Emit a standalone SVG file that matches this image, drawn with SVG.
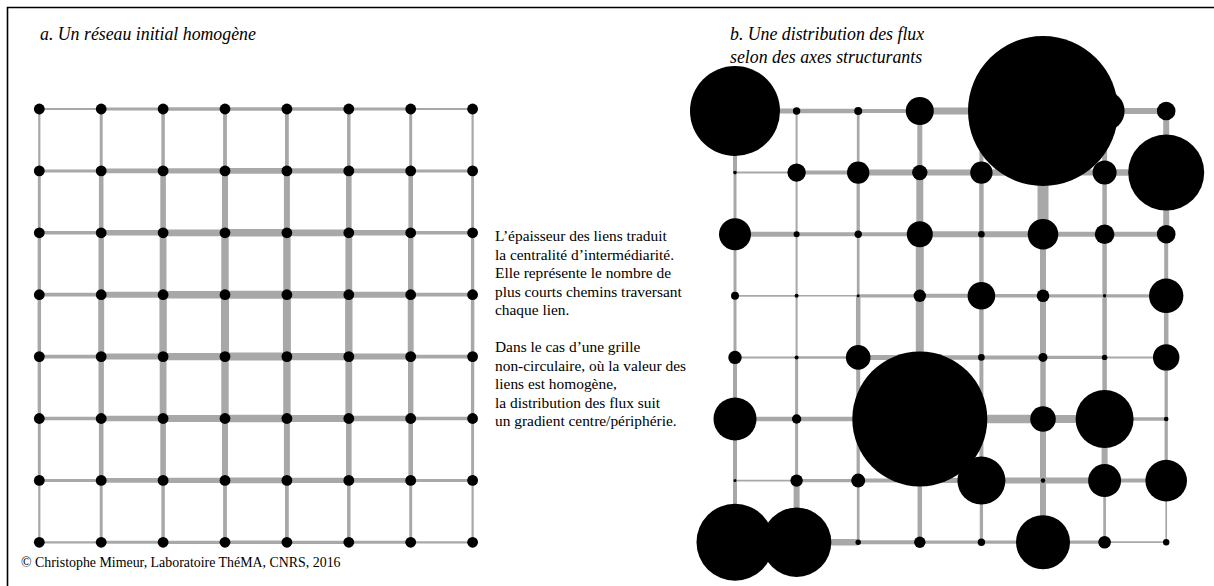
<svg xmlns="http://www.w3.org/2000/svg" width="1214" height="586" viewBox="0 0 1214 586">
<style>
.e path{stroke:#a8a8a8;fill:none;stroke-linecap:butt}
.n circle{fill:#000}
.t{font-family:"Liberation Serif","Times New Roman",serif;fill:#000}
.ti{font-style:italic;font-size:17.8px}
.p{font-size:15.4px}
.c{font-size:13.9px}
</style>
<rect x="0" y="0" width="1214" height="586" fill="#fff"/>
<path d="M7.5 586V7.5H1214" fill="none" stroke="#000" stroke-width="1.6"/>
<text class="t ti" x="40" y="40">a. Un réseau initial homogène</text>
<text class="t ti" x="730" y="40">b. Une distribution des flux</text>
<text class="t ti" x="730" y="63">selon des axes structurants</text>
<g class="t p">
<text x="495" y="241">L’épaisseur des liens traduit</text>
<text x="495" y="259.5">la centralité d’intermédiarité.</text>
<text x="495" y="278">Elle représente le nombre de</text>
<text x="495" y="296.5">plus courts chemins traversant</text>
<text x="495" y="315">chaque lien.</text>
<text x="495" y="352">Dans le cas d’une grille</text>
<text x="495" y="370.5">non-circulaire, où la valeur des</text>
<text x="495" y="389">liens est homogène,</text>
<text x="495" y="407.5">la distribution des flux suit</text>
<text x="495" y="426">un gradient centre/périphérie.</text>
</g>
<text class="t c" x="21" y="567">© Christophe Mimeur, Laboratoire ThéMA, CNRS, 2016</text>
<g id="connectors-a" class="e">
<path d="M39.3 109H101.2" stroke-width="2.2"/><path d="M101.2 109H163.1" stroke-width="2.9"/><path d="M163.1 109H225" stroke-width="3.3"/><path d="M225 109H286.9" stroke-width="3.5"/><path d="M286.9 109H348.8" stroke-width="3.3"/><path d="M348.8 109H410.7" stroke-width="2.9"/><path d="M410.7 109H472.6" stroke-width="2.2"/>
<path d="M39.3 170.9H101.2" stroke-width="3"/><path d="M101.2 170.9H163.1" stroke-width="4.6"/><path d="M163.1 170.9H225" stroke-width="5.4"/><path d="M225 170.9H286.9" stroke-width="5.9"/><path d="M286.9 170.9H348.8" stroke-width="5.4"/><path d="M348.8 170.9H410.7" stroke-width="4.6"/><path d="M410.7 170.9H472.6" stroke-width="3"/>
<path d="M39.3 232.8H101.2" stroke-width="3.5"/><path d="M101.2 232.8H163.1" stroke-width="5.6"/><path d="M163.1 232.8H225" stroke-width="6.8"/><path d="M225 232.8H286.9" stroke-width="7.4"/><path d="M286.9 232.8H348.8" stroke-width="6.8"/><path d="M348.8 232.8H410.7" stroke-width="5.6"/><path d="M410.7 232.8H472.6" stroke-width="3.5"/>
<path d="M39.3 294.7H101.2" stroke-width="3.8"/><path d="M101.2 294.7H163.1" stroke-width="6"/><path d="M163.1 294.7H225" stroke-width="7.4"/><path d="M225 294.7H286.9" stroke-width="8"/><path d="M286.9 294.7H348.8" stroke-width="7.4"/><path d="M348.8 294.7H410.7" stroke-width="6"/><path d="M410.7 294.7H472.6" stroke-width="3.8"/>
<path d="M39.3 356.6H101.2" stroke-width="3.8"/><path d="M101.2 356.6H163.1" stroke-width="6"/><path d="M163.1 356.6H225" stroke-width="7.4"/><path d="M225 356.6H286.9" stroke-width="8"/><path d="M286.9 356.6H348.8" stroke-width="7.4"/><path d="M348.8 356.6H410.7" stroke-width="6"/><path d="M410.7 356.6H472.6" stroke-width="3.8"/>
<path d="M39.3 418.5H101.2" stroke-width="3.5"/><path d="M101.2 418.5H163.1" stroke-width="5.6"/><path d="M163.1 418.5H225" stroke-width="6.8"/><path d="M225 418.5H286.9" stroke-width="7.4"/><path d="M286.9 418.5H348.8" stroke-width="6.8"/><path d="M348.8 418.5H410.7" stroke-width="5.6"/><path d="M410.7 418.5H472.6" stroke-width="3.5"/>
<path d="M39.3 480.4H101.2" stroke-width="3"/><path d="M101.2 480.4H163.1" stroke-width="4.6"/><path d="M163.1 480.4H225" stroke-width="5.4"/><path d="M225 480.4H286.9" stroke-width="5.9"/><path d="M286.9 480.4H348.8" stroke-width="5.4"/><path d="M348.8 480.4H410.7" stroke-width="4.6"/><path d="M410.7 480.4H472.6" stroke-width="3"/>
<path d="M39.3 542.3H101.2" stroke-width="2.2"/><path d="M101.2 542.3H163.1" stroke-width="2.9"/><path d="M163.1 542.3H225" stroke-width="3.3"/><path d="M225 542.3H286.9" stroke-width="3.5"/><path d="M286.9 542.3H348.8" stroke-width="3.3"/><path d="M348.8 542.3H410.7" stroke-width="2.9"/><path d="M410.7 542.3H472.6" stroke-width="2.2"/>
<path d="M39.3 109V170.9" stroke-width="2.2"/><path d="M39.3 170.9V232.8" stroke-width="2.9"/><path d="M39.3 232.8V294.7" stroke-width="3.3"/><path d="M39.3 294.7V356.6" stroke-width="3.5"/><path d="M39.3 356.6V418.5" stroke-width="3.3"/><path d="M39.3 418.5V480.4" stroke-width="2.9"/><path d="M39.3 480.4V542.3" stroke-width="2.2"/>
<path d="M101.2 109V170.9" stroke-width="3"/><path d="M101.2 170.9V232.8" stroke-width="4.6"/><path d="M101.2 232.8V294.7" stroke-width="5.4"/><path d="M101.2 294.7V356.6" stroke-width="5.9"/><path d="M101.2 356.6V418.5" stroke-width="5.4"/><path d="M101.2 418.5V480.4" stroke-width="4.6"/><path d="M101.2 480.4V542.3" stroke-width="3"/>
<path d="M163.1 109V170.9" stroke-width="3.5"/><path d="M163.1 170.9V232.8" stroke-width="5.6"/><path d="M163.1 232.8V294.7" stroke-width="6.8"/><path d="M163.1 294.7V356.6" stroke-width="7.4"/><path d="M163.1 356.6V418.5" stroke-width="6.8"/><path d="M163.1 418.5V480.4" stroke-width="5.6"/><path d="M163.1 480.4V542.3" stroke-width="3.5"/>
<path d="M225 109V170.9" stroke-width="3.8"/><path d="M225 170.9V232.8" stroke-width="6"/><path d="M225 232.8V294.7" stroke-width="7.4"/><path d="M225 294.7V356.6" stroke-width="8"/><path d="M225 356.6V418.5" stroke-width="7.4"/><path d="M225 418.5V480.4" stroke-width="6"/><path d="M225 480.4V542.3" stroke-width="3.8"/>
<path d="M286.9 109V170.9" stroke-width="3.8"/><path d="M286.9 170.9V232.8" stroke-width="6"/><path d="M286.9 232.8V294.7" stroke-width="7.4"/><path d="M286.9 294.7V356.6" stroke-width="8"/><path d="M286.9 356.6V418.5" stroke-width="7.4"/><path d="M286.9 418.5V480.4" stroke-width="6"/><path d="M286.9 480.4V542.3" stroke-width="3.8"/>
<path d="M348.8 109V170.9" stroke-width="3.5"/><path d="M348.8 170.9V232.8" stroke-width="5.6"/><path d="M348.8 232.8V294.7" stroke-width="6.8"/><path d="M348.8 294.7V356.6" stroke-width="7.4"/><path d="M348.8 356.6V418.5" stroke-width="6.8"/><path d="M348.8 418.5V480.4" stroke-width="5.6"/><path d="M348.8 480.4V542.3" stroke-width="3.5"/>
<path d="M410.7 109V170.9" stroke-width="3"/><path d="M410.7 170.9V232.8" stroke-width="4.6"/><path d="M410.7 232.8V294.7" stroke-width="5.4"/><path d="M410.7 294.7V356.6" stroke-width="5.9"/><path d="M410.7 356.6V418.5" stroke-width="5.4"/><path d="M410.7 418.5V480.4" stroke-width="4.6"/><path d="M410.7 480.4V542.3" stroke-width="3"/>
<path d="M472.6 109V170.9" stroke-width="2.2"/><path d="M472.6 170.9V232.8" stroke-width="2.9"/><path d="M472.6 232.8V294.7" stroke-width="3.3"/><path d="M472.6 294.7V356.6" stroke-width="3.5"/><path d="M472.6 356.6V418.5" stroke-width="3.3"/><path d="M472.6 418.5V480.4" stroke-width="2.9"/><path d="M472.6 480.4V542.3" stroke-width="2.2"/>
</g>
<g id="connectors-b" class="e">
<path d="M735 111H796.6" stroke-width="5"/><path d="M796.6 111H858.2" stroke-width="4.5"/><path d="M858.2 111H919.8" stroke-width="4"/><path d="M919.8 111H981.4" stroke-width="7"/><path d="M981.4 111H1043" stroke-width="7"/><path d="M1043 111H1104.6" stroke-width="7"/><path d="M1104.6 111H1166.2" stroke-width="6"/>
<path d="M735 172.6H796.6" stroke-width="2"/><path d="M796.6 172.6H858.2" stroke-width="4"/><path d="M858.2 172.6H919.8" stroke-width="6"/><path d="M919.8 172.6H981.4" stroke-width="6"/><path d="M981.4 172.6H1043" stroke-width="6.5"/><path d="M1043 172.6H1104.6" stroke-width="6"/><path d="M1104.6 172.6H1166.2" stroke-width="6.5"/>
<path d="M735 234.2H796.6" stroke-width="5"/><path d="M796.6 234.2H858.2" stroke-width="4"/><path d="M858.2 234.2H919.8" stroke-width="4"/><path d="M919.8 234.2H981.4" stroke-width="6"/><path d="M981.4 234.2H1043" stroke-width="6"/><path d="M1043 234.2H1104.6" stroke-width="5"/><path d="M1104.6 234.2H1166.2" stroke-width="5"/>
<path d="M735 295.8H796.6" stroke-width="1.7"/><path d="M796.6 295.8H858.2" stroke-width="1.5"/><path d="M858.2 295.8H919.8" stroke-width="3.3"/><path d="M919.8 295.8H981.4" stroke-width="4"/><path d="M981.4 295.8H1043" stroke-width="3.5"/><path d="M1043 295.8H1104.6" stroke-width="3.3"/><path d="M1104.6 295.8H1166.2" stroke-width="3.3"/>
<path d="M735 357.4H796.6" stroke-width="2"/><path d="M796.6 357.4H858.2" stroke-width="2.5"/><path d="M858.2 357.4H919.8" stroke-width="5"/><path d="M919.8 357.4H981.4" stroke-width="4.5"/><path d="M981.4 357.4H1043" stroke-width="4"/><path d="M1043 357.4H1104.6" stroke-width="3.3"/><path d="M1104.6 357.4H1166.2" stroke-width="2"/>
<path d="M735 419H796.6" stroke-width="4.5"/><path d="M796.6 419H858.2" stroke-width="4.5"/><path d="M858.2 419H919.8" stroke-width="6"/><path d="M919.8 419H981.4" stroke-width="8"/><path d="M981.4 419H1043" stroke-width="8.5"/><path d="M1043 419H1104.6" stroke-width="8"/><path d="M1104.6 419H1166.2" stroke-width="3.3"/>
<path d="M735 480.6H796.6" stroke-width="1.7"/><path d="M796.6 480.6H858.2" stroke-width="3.3"/><path d="M858.2 480.6H919.8" stroke-width="4"/><path d="M919.8 480.6H981.4" stroke-width="5"/><path d="M981.4 480.6H1043" stroke-width="6"/><path d="M1043 480.6H1104.6" stroke-width="6"/><path d="M1104.6 480.6H1166.2" stroke-width="4"/>
<path d="M735 542.2H796.6" stroke-width="6"/><path d="M796.6 542.2H858.2" stroke-width="6.5"/><path d="M858.2 542.2H919.8" stroke-width="4"/><path d="M919.8 542.2H981.4" stroke-width="3.3"/><path d="M981.4 542.2H1043" stroke-width="3.3"/><path d="M1043 542.2H1104.6" stroke-width="3.3"/><path d="M1104.6 542.2H1166.2" stroke-width="1.7"/>
<path d="M735 111V172.6" stroke-width="4"/><path d="M735 172.6V234.2" stroke-width="3"/><path d="M735 234.2V295.8" stroke-width="3"/><path d="M735 295.8V357.4" stroke-width="3"/><path d="M735 357.4V419" stroke-width="4"/><path d="M735 419V480.6" stroke-width="4"/><path d="M735 480.6V542.2" stroke-width="4"/>
<path d="M796.6 111V172.6" stroke-width="2"/><path d="M796.6 172.6V234.2" stroke-width="2"/><path d="M796.6 234.2V295.8" stroke-width="2"/><path d="M796.6 295.8V357.4" stroke-width="2"/><path d="M796.6 357.4V419" stroke-width="3"/><path d="M796.6 419V480.6" stroke-width="3"/><path d="M796.6 480.6V542.2" stroke-width="6"/>
<path d="M858.2 111V172.6" stroke-width="2.7"/><path d="M858.2 172.6V234.2" stroke-width="3.3"/><path d="M858.2 234.2V295.8" stroke-width="2.7"/><path d="M858.2 295.8V357.4" stroke-width="4.5"/><path d="M858.2 357.4V419" stroke-width="4"/><path d="M858.2 419V480.6" stroke-width="3.3"/><path d="M858.2 480.6V542.2" stroke-width="2.7"/>
<path d="M919.8 111V172.6" stroke-width="5"/><path d="M919.8 172.6V234.2" stroke-width="7"/><path d="M919.8 234.2V295.8" stroke-width="8"/><path d="M919.8 295.8V357.4" stroke-width="8"/><path d="M919.8 357.4V419" stroke-width="8"/><path d="M919.8 419V480.6" stroke-width="8"/><path d="M919.8 480.6V542.2" stroke-width="4.5"/>
<path d="M981.4 111V172.6" stroke-width="4"/><path d="M981.4 172.6V234.2" stroke-width="4.5"/><path d="M981.4 234.2V295.8" stroke-width="4.5"/><path d="M981.4 295.8V357.4" stroke-width="4.5"/><path d="M981.4 357.4V419" stroke-width="4"/><path d="M981.4 419V480.6" stroke-width="4"/><path d="M981.4 480.6V542.2" stroke-width="3.3"/>
<path d="M1043 111V172.6" stroke-width="11"/><path d="M1043 172.6V234.2" stroke-width="11"/><path d="M1043 234.2V295.8" stroke-width="6"/><path d="M1043 295.8V357.4" stroke-width="6"/><path d="M1043 357.4V419" stroke-width="5.5"/><path d="M1043 419V480.6" stroke-width="6"/><path d="M1043 480.6V542.2" stroke-width="6"/>
<path d="M1104.6 111V172.6" stroke-width="5"/><path d="M1104.6 172.6V234.2" stroke-width="4.5"/><path d="M1104.6 234.2V295.8" stroke-width="4.5"/><path d="M1104.6 295.8V357.4" stroke-width="4.5"/><path d="M1104.6 357.4V419" stroke-width="4.5"/><path d="M1104.6 419V480.6" stroke-width="6"/><path d="M1104.6 480.6V542.2" stroke-width="2.7"/>
<path d="M1166.2 111V172.6" stroke-width="6"/><path d="M1166.2 172.6V234.2" stroke-width="6"/><path d="M1166.2 234.2V295.8" stroke-width="4"/><path d="M1166.2 295.8V357.4" stroke-width="4.5"/><path d="M1166.2 357.4V419" stroke-width="3.3"/><path d="M1166.2 419V480.6" stroke-width="3.3"/><path d="M1166.2 480.6V542.2" stroke-width="1.7"/>
</g>
<g class="n">
<g id="a00"><circle cx="39.3" cy="109" r="5.4"/></g><g id="a01"><circle cx="101.2" cy="109" r="5.4"/></g><g id="a02"><circle cx="163.1" cy="109" r="5.4"/></g><g id="a03"><circle cx="225" cy="109" r="5.4"/></g><g id="a04"><circle cx="286.9" cy="109" r="5.4"/></g><g id="a05"><circle cx="348.8" cy="109" r="5.4"/></g><g id="a06"><circle cx="410.7" cy="109" r="5.4"/></g><g id="a07"><circle cx="472.6" cy="109" r="5.4"/></g>
<g id="a10"><circle cx="39.3" cy="170.9" r="5.4"/></g><g id="a11"><circle cx="101.2" cy="170.9" r="5.4"/></g><g id="a12"><circle cx="163.1" cy="170.9" r="5.4"/></g><g id="a13"><circle cx="225" cy="170.9" r="5.4"/></g><g id="a14"><circle cx="286.9" cy="170.9" r="5.4"/></g><g id="a15"><circle cx="348.8" cy="170.9" r="5.4"/></g><g id="a16"><circle cx="410.7" cy="170.9" r="5.4"/></g><g id="a17"><circle cx="472.6" cy="170.9" r="5.4"/></g>
<g id="a20"><circle cx="39.3" cy="232.8" r="5.4"/></g><g id="a21"><circle cx="101.2" cy="232.8" r="5.4"/></g><g id="a22"><circle cx="163.1" cy="232.8" r="5.4"/></g><g id="a23"><circle cx="225" cy="232.8" r="5.4"/></g><g id="a24"><circle cx="286.9" cy="232.8" r="5.4"/></g><g id="a25"><circle cx="348.8" cy="232.8" r="5.4"/></g><g id="a26"><circle cx="410.7" cy="232.8" r="5.4"/></g><g id="a27"><circle cx="472.6" cy="232.8" r="5.4"/></g>
<g id="a30"><circle cx="39.3" cy="294.7" r="5.4"/></g><g id="a31"><circle cx="101.2" cy="294.7" r="5.4"/></g><g id="a32"><circle cx="163.1" cy="294.7" r="5.4"/></g><g id="a33"><circle cx="225" cy="294.7" r="5.4"/></g><g id="a34"><circle cx="286.9" cy="294.7" r="5.4"/></g><g id="a35"><circle cx="348.8" cy="294.7" r="5.4"/></g><g id="a36"><circle cx="410.7" cy="294.7" r="5.4"/></g><g id="a37"><circle cx="472.6" cy="294.7" r="5.4"/></g>
<g id="a40"><circle cx="39.3" cy="356.6" r="5.4"/></g><g id="a41"><circle cx="101.2" cy="356.6" r="5.4"/></g><g id="a42"><circle cx="163.1" cy="356.6" r="5.4"/></g><g id="a43"><circle cx="225" cy="356.6" r="5.4"/></g><g id="a44"><circle cx="286.9" cy="356.6" r="5.4"/></g><g id="a45"><circle cx="348.8" cy="356.6" r="5.4"/></g><g id="a46"><circle cx="410.7" cy="356.6" r="5.4"/></g><g id="a47"><circle cx="472.6" cy="356.6" r="5.4"/></g>
<g id="a50"><circle cx="39.3" cy="418.5" r="5.4"/></g><g id="a51"><circle cx="101.2" cy="418.5" r="5.4"/></g><g id="a52"><circle cx="163.1" cy="418.5" r="5.4"/></g><g id="a53"><circle cx="225" cy="418.5" r="5.4"/></g><g id="a54"><circle cx="286.9" cy="418.5" r="5.4"/></g><g id="a55"><circle cx="348.8" cy="418.5" r="5.4"/></g><g id="a56"><circle cx="410.7" cy="418.5" r="5.4"/></g><g id="a57"><circle cx="472.6" cy="418.5" r="5.4"/></g>
<g id="a60"><circle cx="39.3" cy="480.4" r="5.4"/></g><g id="a61"><circle cx="101.2" cy="480.4" r="5.4"/></g><g id="a62"><circle cx="163.1" cy="480.4" r="5.4"/></g><g id="a63"><circle cx="225" cy="480.4" r="5.4"/></g><g id="a64"><circle cx="286.9" cy="480.4" r="5.4"/></g><g id="a65"><circle cx="348.8" cy="480.4" r="5.4"/></g><g id="a66"><circle cx="410.7" cy="480.4" r="5.4"/></g><g id="a67"><circle cx="472.6" cy="480.4" r="5.4"/></g>
<g id="a70"><circle cx="39.3" cy="542.3" r="5.4"/></g><g id="a71"><circle cx="101.2" cy="542.3" r="5.4"/></g><g id="a72"><circle cx="163.1" cy="542.3" r="5.4"/></g><g id="a73"><circle cx="225" cy="542.3" r="5.4"/></g><g id="a74"><circle cx="286.9" cy="542.3" r="5.4"/></g><g id="a75"><circle cx="348.8" cy="542.3" r="5.4"/></g><g id="a76"><circle cx="410.7" cy="542.3" r="5.4"/></g><g id="a77"><circle cx="472.6" cy="542.3" r="5.4"/></g>
</g>
<g class="n">
<g id="b00"><circle cx="735" cy="111" r="45"/></g><g id="b01"><circle cx="796.6" cy="111" r="3.7"/></g><g id="b02"><circle cx="858.2" cy="111" r="4"/></g><g id="b03"><circle cx="919.8" cy="111" r="14"/></g><g id="b04"><circle cx="981.4" cy="111" r="5"/></g><g id="b05"><circle cx="1043" cy="111" r="75"/></g><g id="b06"><circle cx="1104.6" cy="111" r="20"/></g><g id="b07"><circle cx="1166.2" cy="111" r="9.3"/></g>
<g id="b10"><circle cx="735" cy="172.6" r="1.8"/></g><g id="b11"><circle cx="796.6" cy="172.6" r="9.2"/></g><g id="b12"><circle cx="858.2" cy="172.6" r="11.2"/></g><g id="b13"><circle cx="919.8" cy="172.6" r="7.7"/></g><g id="b14"><circle cx="981.4" cy="172.6" r="11.2"/></g><g id="b15"><circle cx="1043" cy="172.6" r="5"/></g><g id="b16"><circle cx="1104.6" cy="172.6" r="12"/></g><g id="b17"><circle cx="1166.2" cy="172.6" r="38"/></g>
<g id="b20"><circle cx="735" cy="234.2" r="16"/></g><g id="b21"><circle cx="796.6" cy="234.2" r="3"/></g><g id="b22"><circle cx="858.2" cy="234.2" r="3.7"/></g><g id="b23"><circle cx="919.8" cy="234.2" r="13"/></g><g id="b24"><circle cx="981.4" cy="234.2" r="3.3"/></g><g id="b25"><circle cx="1043" cy="234.2" r="15.3"/></g><g id="b26"><circle cx="1104.6" cy="234.2" r="9.8"/></g><g id="b27"><circle cx="1166.2" cy="234.2" r="9.3"/></g>
<g id="b30"><circle cx="735" cy="295.8" r="4"/></g><g id="b31"><circle cx="796.6" cy="295.8" r="2"/></g><g id="b32"><circle cx="858.2" cy="295.8" r="1.5"/></g><g id="b33"><circle cx="919.8" cy="295.8" r="6.2"/></g><g id="b34"><circle cx="981.4" cy="295.8" r="13.8"/></g><g id="b35"><circle cx="1043" cy="295.8" r="6.3"/></g><g id="b36"><circle cx="1104.6" cy="295.8" r="1.7"/></g><g id="b37"><circle cx="1166.2" cy="295.8" r="17.2"/></g>
<g id="b40"><circle cx="735" cy="357.4" r="6.7"/></g><g id="b41"><circle cx="796.6" cy="357.4" r="2"/></g><g id="b42"><circle cx="858.2" cy="357.4" r="12.3"/></g><g id="b43"><circle cx="919.8" cy="357.4" r="5"/></g><g id="b44"><circle cx="981.4" cy="357.4" r="3.3"/></g><g id="b45"><circle cx="1043" cy="357.4" r="4.5"/></g><g id="b46"><circle cx="1104.6" cy="357.4" r="2.7"/></g><g id="b47"><circle cx="1166.2" cy="357.4" r="13.2"/></g>
<g id="b50"><circle cx="735" cy="419" r="21.5"/></g><g id="b51"><circle cx="796.6" cy="419" r="4.7"/></g><g id="b52"><circle cx="858.2" cy="419" r="5"/></g><g id="b53"><circle cx="919.8" cy="419" r="67.5"/></g><g id="b54"><circle cx="981.4" cy="419" r="5"/></g><g id="b55"><circle cx="1043" cy="419" r="12.8"/></g><g id="b56"><circle cx="1104.6" cy="419" r="29"/></g><g id="b57"><circle cx="1166.2" cy="419" r="2.3"/></g>
<g id="b60"><circle cx="735" cy="480.6" r="1.5"/></g><g id="b61"><circle cx="796.6" cy="480.6" r="6.2"/></g><g id="b62"><circle cx="858.2" cy="480.6" r="7"/></g><g id="b63"><circle cx="919.8" cy="480.6" r="5"/></g><g id="b64"><circle cx="981.4" cy="480.6" r="24"/></g><g id="b65"><circle cx="1043" cy="480.6" r="2.3"/></g><g id="b66"><circle cx="1104.6" cy="480.6" r="16.5"/></g><g id="b67"><circle cx="1166.2" cy="480.6" r="20.8"/></g>
<g id="b70"><circle cx="735" cy="542.2" r="38.5"/></g><g id="b71"><circle cx="796.6" cy="542.2" r="34.7"/></g><g id="b72"><circle cx="858.2" cy="542.2" r="2.7"/></g><g id="b73"><circle cx="919.8" cy="542.2" r="5.7"/></g><g id="b74"><circle cx="981.4" cy="542.2" r="3.7"/></g><g id="b75"><circle cx="1043" cy="542.2" r="27"/></g><g id="b76"><circle cx="1104.6" cy="542.2" r="6.3"/></g><g id="b77"><circle cx="1166.2" cy="542.2" r="3.2"/></g>
</g>
</svg>
